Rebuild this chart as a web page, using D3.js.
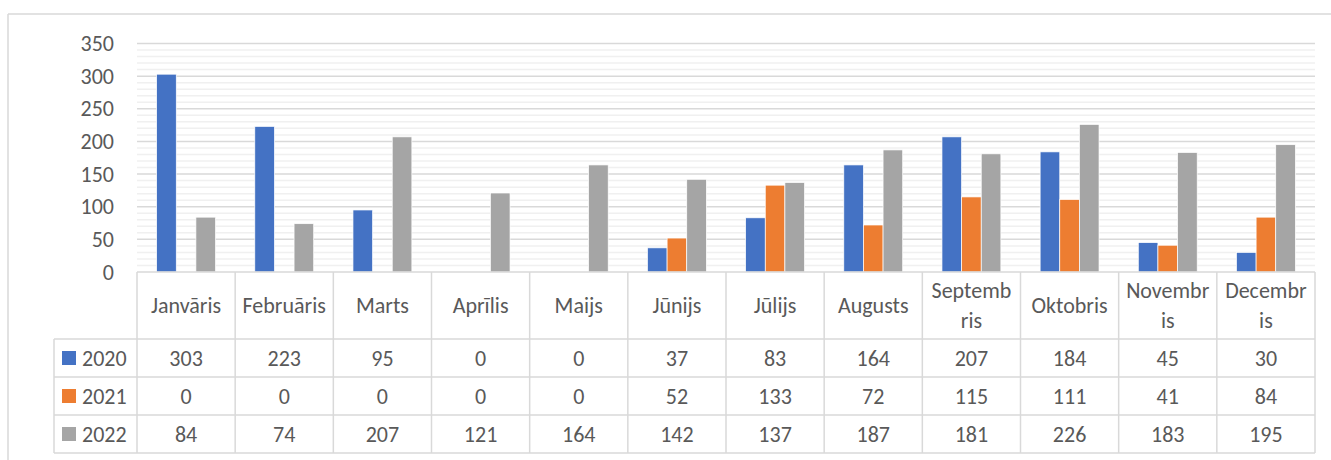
<!DOCTYPE html>
<html>
<head>
<meta charset="utf-8">
<script src="https://cdn.jsdelivr.net/npm/d3@7"></script>
<style>
html,body{margin:0;padding:0;background:#fff;}
svg{display:block;font-family:Carlito, Lato, "Liberation Sans", sans-serif;}
</style>
</head>
<body>
<svg id="chart" width="1331" height="460"></svg>
<script>
const months = ["Janvāris","Februāris","Marts","Aprīlis","Maijs","Jūnijs","Jūlijs","Augusts","Septembris","Oktobris","Novembris","Decembris"];
const monthLabels = [["Janvāris"],["Februāris"],["Marts"],["Aprīlis"],["Maijs"],["Jūnijs"],["Jūlijs"],["Augusts"],["Septemb","ris"],["Oktobris"],["Novembr","is"],["Decembr","is"]];
const seriesNames = ["2020","2021","2022"];
const values2020 = [303,223,95,0,0,37,83,164,207,184,45,30];
const values2021 = [0,0,0,0,0,52,133,72,115,111,41,84];
const values2022 = [84,74,207,121,164,142,137,187,181,226,183,195];
const colors = ["#4472C4","#ED7D31","#A5A5A5"];
const yTicks = [0,50,100,150,200,250,300,350];

const seriesValues = [values2020, values2021, values2022];
const svg = d3.select("#chart");
const textColor = "#595959";
const gridMajor = "#d9d9d9";
const gridMinor = "#f0f0f0";
const fs = 22;

// frame
svg.append("line").attr("x1",8).attr("x2",1331).attr("y1",14).attr("y2",14).attr("stroke",gridMajor).attr("stroke-width",1.5);
svg.append("line").attr("x1",8).attr("x2",8).attr("y1",14).attr("y2",460).attr("stroke",gridMajor).attr("stroke-width",1.5);

const pLeft = 137, pRight = 1315, pTop = 43.5, pBottom = 272;
const x0 = d3.scaleBand().domain(months).range([pLeft,pRight]).padding(0);
const x1 = d3.scaleBand().domain(seriesNames).range([x0.bandwidth()*0.2, x0.bandwidth()*0.8]).padding(0);
const y = d3.scaleLinear().domain([0,350]).range([pBottom, pTop]);

// minor grid
const minor = d3.range(0,351,10).filter(v => v % 50 !== 0);
svg.append("g").selectAll("line").data(minor).join("line")
  .attr("x1",pLeft).attr("x2",pRight).attr("y1",d=>y(d)).attr("y2",d=>y(d))
  .attr("stroke",gridMinor).attr("stroke-width",1.5);
// major grid
svg.append("g").selectAll("line").data(yTicks.filter(d=>d>0)).join("line")
  .attr("x1",pLeft).attr("x2",pRight).attr("y1",d=>y(d)).attr("y2",d=>y(d))
  .attr("stroke",gridMajor).attr("stroke-width",1.5);

// y axis labels
const yAxis = d3.axisLeft(y).tickValues(yTicks).tickSize(0).tickPadding(0);
const ya = svg.append("g").attr("transform",`translate(114,0)`).call(yAxis);
ya.select(".domain").remove();
ya.selectAll("text").attr("font-size",fs).attr("fill",textColor).attr("font-family","Carlito, Lato, sans-serif");

// bars
const groups = svg.append("g").selectAll("g").data(months).join("g")
  .attr("transform",d=>`translate(${x0(d)},0)`);
groups.selectAll("rect").data((m,i)=>seriesNames.map((s,j)=>({s, v: seriesValues[j][i], c: colors[j]})))
  .join("rect")
  .attr("x",d=>x1(d.s)).attr("width",x1.bandwidth())
  .attr("y",d=>y(d.v)).attr("height",d=>y(0)-y(d.v))
  .attr("fill",d=>d.c).attr("stroke","#fff").attr("stroke-width",0.7);

// data table
const headBottom = 339, rowH = 38;
const rowTops = seriesNames.map((s,i)=>headBottom + i*rowH);
const tableBottom = headBottom + seriesNames.length*rowH;
const tg = svg.append("g");
tg.append("line").attr("x1",pLeft).attr("x2",pRight).attr("y1",pBottom).attr("y2",pBottom).attr("stroke",gridMajor).attr("stroke-width",1.5);
[headBottom, ...rowTops.slice(1), tableBottom].forEach(yy=>{
  tg.append("line").attr("x1",54).attr("x2",pRight).attr("y1",yy).attr("y2",yy).attr("stroke",gridMajor).attr("stroke-width",1.5);
});
tg.append("line").attr("x1",54).attr("x2",54).attr("y1",headBottom).attr("y2",tableBottom).attr("stroke",gridMajor).attr("stroke-width",1.5);
[...months.map(m=>x0(m)), pRight].forEach(xx=>{
  tg.append("line").attr("x1",xx).attr("x2",xx).attr("y1",pBottom).attr("y2",tableBottom).attr("stroke",gridMajor).attr("stroke-width",1.5);
});
months.forEach((m,i)=>{
  const lines = monthLabels[i];
  const cx = x0(m) + x0.bandwidth()/2;
  const cy = (pBottom+headBottom)/2;
  const lh = 30;
  lines.forEach((t,k)=>{
    tg.append("text").attr("x",cx).attr("y",cy + (k - (lines.length-1)/2)*lh)
      .attr("text-anchor","middle").attr("dominant-baseline","central")
      .attr("font-size",fs).attr("fill",textColor).text(t);
  });
});
seriesNames.forEach((s,j)=>{
  const cy = rowTops[j] + rowH/2;
  tg.append("rect").attr("x",62).attr("y",cy-7).attr("width",14).attr("height",14).attr("fill",colors[j]);
  tg.append("text").attr("x",82).attr("y",cy).attr("dominant-baseline","central")
    .attr("font-size",fs).attr("fill",textColor).text(s);
  months.forEach((m,i)=>{
    tg.append("text").attr("x",x0(m)+x0.bandwidth()/2).attr("y",cy)
      .attr("text-anchor","middle").attr("dominant-baseline","central")
      .attr("font-size",fs).attr("fill",textColor).text(seriesValues[j][i]);
  });
});
</script>
</body>
</html>
